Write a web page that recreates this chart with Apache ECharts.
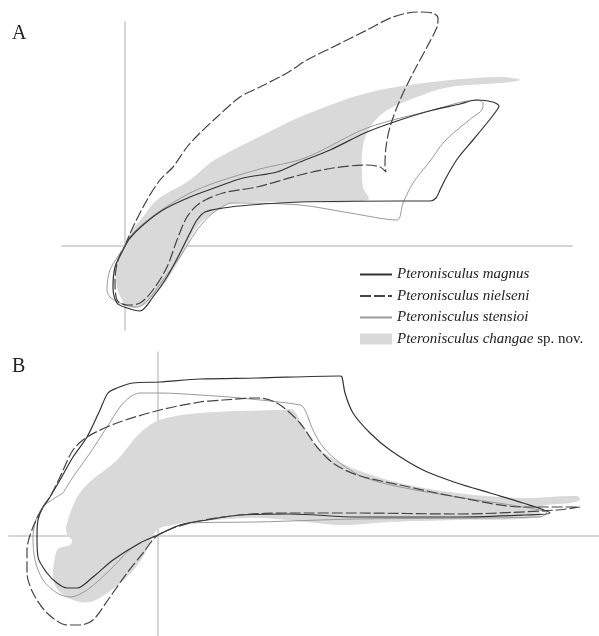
<!DOCTYPE html>
<html>
<head>
<meta charset="utf-8">
<script src="https://cdn.jsdelivr.net/npm/echarts@6/dist/echarts.min.js"></script>
<style>
html,body{margin:0;padding:0;background:#fff;}
#chart{width:599px;height:636px;}
</style>
</head>
<body>
<div id="chart"></div>
<script>
// Series names (legend)
const seriesNames = ['Pteronisculus magnus', 'Pteronisculus nielseni', 'Pteronisculus stensioi', 'Pteronisculus changae sp. nov.'];
const panelLabels = ['A', 'B'];

// Panel A outlines (x, y relative to the axis cross)
const magnusA = [[0,0],[5,8],[18,21],[38,36],[65,49],[92,59],[118,68],[152,74],[175,84],[205,96],[242,114],[275,126],[308,136],[335,142],[352,146],[368,144],[374,140],[372,136],[362,123],[348,106],[333,88],[322,70],[315,56],[311,48],[305,45],[275,45],[175,44],[125,41],[98,38],[80,34],[72,26],[65,13],[55,-7],[42,-31],[28,-51],[15,-65],[2,-62],[-8,-57],[-12,-41],[-10,-21],[-3,-6],[0,0]];
const nielseniA = [[0,0],[8,19],[22,46],[35,66],[48,79],[62,99],[75,113],[92,129],[115,149],[135,159],[162,173],[182,186],[208,199],[242,216],[268,229],[292,234],[308,233],[313,228],[312,219],[302,199],[288,173],[275,146],[265,119],[261,99],[260,81],[261,74],[255,79],[242,81],[208,78],[175,71],[132,59],[98,53],[75,43],[62,29],[52,6],[42,-21],[28,-44],[15,-57],[2,-59],[-8,-54],[-10,-34],[-7,-14],[0,0]];
const stensioiA = [[0,0],[8,13],[32,33],[65,53],[92,64],[135,77],[180,88],[242,118],[308,136],[352,146],[358,143],[357,136],[348,129],[332,116],[318,103],[308,89],[302,81],[288,63],[278,43],[272,26],[225,33],[175,41],[108,43],[88,33],[72,16],[55,-11],[38,-34],[23,-54],[12,-61],[-5,-57],[-15,-51],[-18,-44],[-15,-24],[0,0]];
const changaeA = [[395,166],[375,169],[308,164],[242,153],[175,129],[142,113],[108,96],[85,83],[65,66],[32,46],[18,29],[5,13],[-3,-4],[-9,-21],[-8,-41],[-3,-54],[2,-61],[15,-61],[25,-54],[42,-34],[58,-7],[72,19],[92,36],[108,43],[175,44],[243,46],[238,59],[237,73],[237,93],[242,113],[258,133],[292,149],[325,159],[375,163]];

// Panel B outlines
const magnusB = [[-108,39],[-98,56],[-85,79],[-71,99],[-58,126],[-50,143],[-41,148],[-25,153],[2,154],[42,157],[99,158],[182,160],[184,159],[187,143],[195,123],[212,103],[232,86],[265,66],[299,53],[332,43],[365,33],[392,23],[365,21],[299,19],[199,19],[132,22],[82,21],[49,16],[22,11],[0,1],[-18,-7],[-45,-24],[-65,-41],[-81,-52],[-91,-52],[-101,-47],[-111,-37],[-120,-21],[-121,-1],[-120,16],[-115,29],[-108,39]];
const nielseniB = [[-115,29],[-108,39],[-98,59],[-85,86],[-71,99],[-41,113],[2,126],[42,134],[65,136],[99,138],[112,136],[125,129],[142,113],[159,89],[175,73],[199,61],[242,51],[299,39],[365,29],[422,29],[399,26],[299,22],[199,23],[132,23],[82,21],[32,13],[0,1],[-15,-17],[-31,-37],[-48,-61],[-65,-84],[-78,-89],[-91,-89],[-111,-77],[-125,-57],[-131,-37],[-131,-14],[-125,9],[-115,29]];
const stensioiB = [[-95,43],[-85,59],[-68,83],[-51,109],[-38,129],[-28,139],[-18,143],[2,143],[42,141],[82,138],[142,131],[147,126],[155,106],[165,89],[182,73],[205,59],[242,49],[299,39],[365,29],[389,23],[382,19],[199,17],[99,14],[32,13],[0,1],[-25,-11],[-48,-34],[-71,-54],[-88,-61],[-101,-57],[-115,-44],[-123,-24],[-125,-1],[-121,19],[-113,31],[-103,38],[-95,43]];
const changaeB = [[-76,46],[-41,76],[-18,103],[2,116],[42,123],[122,126],[135,126],[145,109],[159,89],[172,79],[199,66],[242,53],[299,43],[365,38],[419,40],[422,36],[412,33],[382,29],[382,19],[299,16],[232,14],[185,11],[149,14],[99,18],[32,14],[15,11],[-1,6],[-15,-21],[-31,-41],[-51,-57],[-68,-66],[-85,-64],[-100,-54],[-105,-41],[-103,-21],[-100,-13],[-95,-11],[-88,-9],[-86,-4],[-91,1],[-91,13]];

const chart = echarts.init(document.getElementById('chart'), null, {renderer: 'canvas'});

const axisLineStyle = {show: true, onZero: true, lineStyle: {color: '#c8c8c8', width: 1.5}};
function ax(grid, min, max) {
  return {type: 'value', gridIndex: grid, min: min, max: max, axisLine: axisLineStyle,
    axisTick: {show: false}, axisLabel: {show: false}, splitLine: {show: false}};
}

function polySeries(name, pts, axisIdx) {
  return {
    name: name, type: 'custom', xAxisIndex: axisIdx, yAxisIndex: axisIdx,
    itemStyle: {color: '#d9d9d9'}, z: 1, silent: true, clip: false,
    data: pts,
    renderItem: function (params, api) {
      if (params.dataIndex !== 0) return null;
      const points = pts.map(p => api.coord(p));
      return {type: 'polygon', shape: {points: points, smooth: 0.35}, style: {fill: '#d9d9d9', stroke: null}};
    }
  };
}
function lineSeries(name, pts, axisIdx, color, width, type) {
  return {
    name: name, type: 'line', xAxisIndex: axisIdx, yAxisIndex: axisIdx,
    data: pts, symbol: 'none', showSymbol: false, smooth: 0.3, z: 3, clip: false,
    itemStyle: {color: color},
    lineStyle: {color: color, width: width, type: type},
    silent: true
  };
}

const hiddenSym = {color: 'rgba(0,0,0,0)', borderColor: 'rgba(0,0,0,0)', borderWidth: 0};
const labelStyle = {fontFamily: 'Liberation Serif', fontWeight: 'normal', fontSize: 20, color: '#222'};

const option = {
  animation: false,
  backgroundColor: '#fff',
  title: [
    {text: panelLabels[0], left: 7, top: 19, textStyle: labelStyle},
    {text: panelLabels[1], left: 7, top: 352, textStyle: labelStyle}
  ],
  grid: [
    {left: 62, top: 22, width: 510, height: 308},
    {left: 9, top: 352, width: 590, height: 284}
  ],
  xAxis: [ax(0, -63, 447), ax(1, -149, 441)],
  yAxis: [ax(0, -84, 224), ax(1, -100, 184)],
  legend: {
    orient: 'vertical', left: 359, top: 267, padding: 0,
    itemWidth: 32, itemHeight: 11, itemGap: 6.5,
    selectedMode: false,
    data: [
      {name: seriesNames[0], itemStyle: hiddenSym},
      {name: seriesNames[1], itemStyle: hiddenSym},
      {name: seriesNames[2], itemStyle: hiddenSym},
      {name: seriesNames[3], icon: 'rect'}
    ],
    formatter: function (name) {
      if (name === seriesNames[3]) return '{i|Pteronisculus changae} {n|sp. nov.}';
      return '{i|' + name + '}';
    },
    textStyle: {
      fontFamily: 'Liberation Serif', fontSize: 15, color: '#222',
      rich: {
        i: {fontFamily: 'Liberation Serif', fontSize: 15, fontStyle: 'italic', color: '#222'},
        n: {fontFamily: 'Liberation Serif', fontSize: 15, fontStyle: 'normal', color: '#222'}
      }
    }
  },
  series: [
    polySeries(seriesNames[3], changaeA, 0),
    polySeries(seriesNames[3], changaeB, 1),
    lineSeries(seriesNames[2], stensioiA, 0, '#9a9a9a', 1, 'solid'),
    lineSeries(seriesNames[2], stensioiB, 1, '#9a9a9a', 1, 'solid'),
    lineSeries(seriesNames[0], magnusA, 0, '#333333', 1.2, 'solid'),
    lineSeries(seriesNames[0], magnusB, 1, '#333333', 1.2, 'solid'),
    lineSeries(seriesNames[1], nielseniA, 0, '#444444', 1.2, [11, 3]),
    lineSeries(seriesNames[1], nielseniB, 1, '#444444', 1.2, [11, 3])
  ]
};
chart.setOption(option);
</script>
</body>
</html>
